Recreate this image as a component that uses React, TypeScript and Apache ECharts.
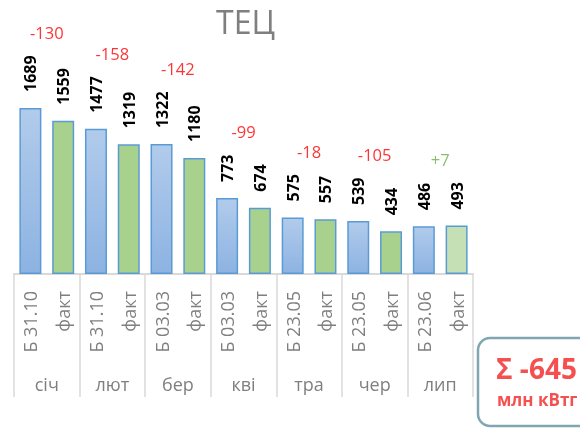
import { useEffect, useRef } from 'react';
import * as echarts from 'echarts';

const title = 'ТЕЦ';
const months = ['січ', 'лют', 'бер', 'кві', 'тра', 'чер', 'лип'];
const planLabels = ['Б 31.10', 'Б 31.10', 'Б 03.03', 'Б 03.03', 'Б 23.05', 'Б 23.05', 'Б 23.06'];
const factLabel = 'факт';
const planValues = [1689, 1477, 1322, 773, 575, 539, 486];
const factValues = [1559, 1319, 1180, 674, 557, 434, 493];
const unitLabel = 'млн кВтг';

const FONT = 'Open Sans';

export default function App() {
  const ref = useRef<HTMLDivElement>(null);
  useEffect(() => {
    const chart = echarts.init(ref.current!, null, { renderer: 'svg' });

    const blue = new echarts.graphic.LinearGradient(0, 0, 0, 1, [
      { offset: 0, color: '#b1cbeb' },
      { offset: 1, color: '#8db3e2' },
    ]);
    const barCats: string[] = [];
    const barData: any[] = [];
    months.forEach((_, i) => {
      barCats.push(planLabels[i]);
      barData.push({ value: planValues[i], itemStyle: { color: blue } });
      barCats.push(factLabel + '\u200b'.repeat(i));
      barData.push({
        value: factValues[i],
        itemStyle: { color: i === months.length - 1 ? '#c5e0b4' : '#a9d18e' },
      });
    });

    const diffs = months.map((_, i) => factValues[i] - planValues[i]);
    const total = diffs.reduce((a, b) => a + b, 0);
    const diffData = months.map((_, i) => {
      const top = Math.max(planValues[i], factValues[i]);
      const d = diffs[i];
      return {
        value: top,
        label: {
          formatter: d > 0 ? '+' + d : String(d),
          color: d > 0 ? '#70ad47' : '#ff0000',
          distance: 16 + String(top).length * 9.2 + 14,
        },
      };
    });

    chart.setOption({
      animation: false,
      title: {
        text: title,
        left: 211,
        top: 0,
        textStyle: { fontSize: 32, fontWeight: 'normal', color: '#7f7f7f', fontFamily: FONT },
      },
      grid: { left: 14, right: 107, top: 77.4, bottom: 154, containLabel: false },
      xAxis: [
        {
          type: 'category',
          data: barCats,
          position: 'bottom',
          axisLine: { show: true, lineStyle: { color: '#d9d9d9', width: 2 } },
          axisTick: { show: false },
          axisLabel: {
            interval: 0,
            rotate: 90,
            margin: 17,
            fontSize: 18,
            color: '#7f7f7f',
            fontFamily: FONT,
            formatter: (v: string) => v.replace(/\u200b/g, ''),
          },
        },
        {
          type: 'category',
          data: months,
          position: 'bottom',
          axisLine: { show: false },
          axisTick: { show: true, interval: 0, length: 123, lineStyle: { color: '#d9d9d9', width: 1.5 } },
          axisLabel: { interval: 0, margin: 101, fontSize: 18, color: '#7f7f7f', fontFamily: FONT },
        },
      ],
      yAxis: { type: 'value', min: 0, max: 2000, show: false, splitLine: { show: false } },
      series: [
        {
          type: 'bar',
          xAxisIndex: 0,
          data: barData,
          barWidth: 22,
          itemStyle: { borderColor: '#5b9bd5', borderWidth: 1.5 },
          label: {
            show: true,
            position: 'top',
            rotate: 90,
            align: 'left',
            verticalAlign: 'middle',
            distance: 16,
            fontSize: 16,
            fontWeight: 'bold',
            color: '#000',
            fontFamily: FONT,
          },
        },
        {
          type: 'scatter',
          xAxisIndex: 1,
          data: diffData,
          symbolSize: 0,
          label: { show: true, position: 'top', fontSize: 16.5, fontFamily: FONT },
        },
      ],
      graphic: [
        {
          type: 'rect',
          shape: { x: 478, y: 338, width: 130, height: 88, r: 12 },
          style: { fill: '#ffffff', stroke: '#7fa6b2', lineWidth: 2.5 },
        },
        {
          type: 'text',
          x: 496,
          y: 354,
          style: {
            text: 'Σ ' + total,
            font: `bold 28px "${FONT}"`,
            fill: '#f55050',
          },
        },
        {
          type: 'text',
          x: 497,
          y: 391,
          style: {
            text: unitLabel,
            font: `bold 17px "${FONT}"`,
            fill: '#f55050',
          },
        },
      ],
    });
    return () => chart.dispose();
  }, []);
  return (
    <div
      ref={ref}
      style={{ position: 'fixed', left: 0, top: 0, width: 580, height: 428 }}
    />
  );
}
